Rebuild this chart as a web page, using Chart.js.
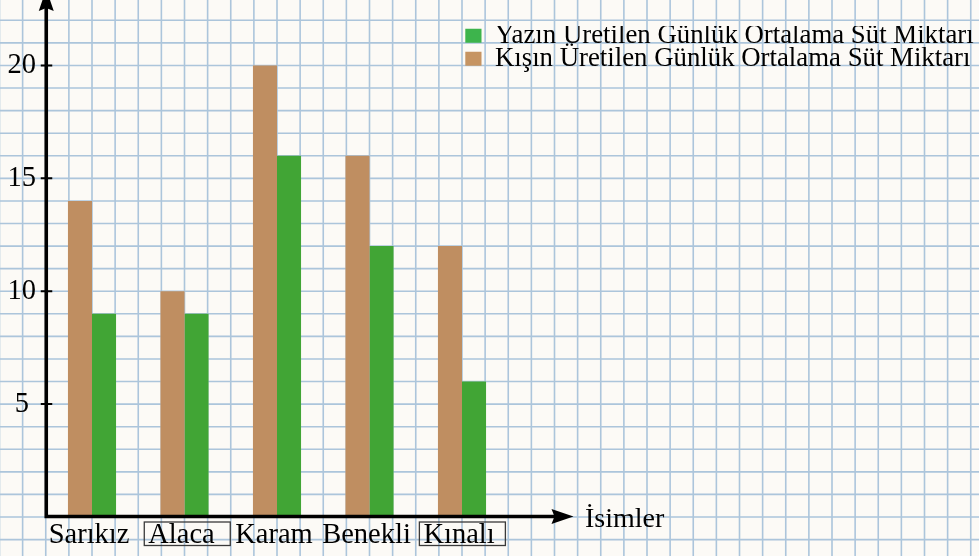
<!DOCTYPE html>
<html>
<head>
<meta charset="utf-8">
<script src="https://cdn.jsdelivr.net/npm/chart.js@4.4.1/dist/chart.umd.min.js"></script>
<style>
    html, body { margin: 0; padding: 0; background: #fcfaf6; }
    #wrap { width: 979px; height: 556px; }
</style>
</head>
<body>
<div id="wrap"><canvas id="barChart" width="979" height="556"></canvas></div>
<script>
// Veriler
const names = ['Sarıkız', 'Alaca', 'Karam', 'Benekli', 'Kınalı'];
const winterMilk = [14, 10, 20, 16, 12];
const summerMilk = [9, 9, 16, 12, 6];
const winterLabel = 'Kışın Üretilen Günlük Ortalama Süt Miktarı';
const summerLabel = 'Yazın Üretilen Günlük Ortalama Süt Miktarı';
const yTicks = [5, 10, 15, 20];
const boxedNames = ['Alaca', 'Kınalı'];
const axisTitle = 'İsimler';

const serif = '"Liberation Serif", "DejaVu Serif", serif';
const brown = '#bf8e61';
const green = '#41a535';
const legendColors = { [winterLabel]: '#c69462', [summerLabel]: '#3db44c' };
const labelShift = -3;

// Kareli kagit arka plani (olcekler ile hizali)
const paperGrid = {
    id: 'paperGrid',
    beforeDraw(chart) {
        const { ctx, width, height } = chart;
        const x = chart.scales.x, y = chart.scales.y;
        ctx.save();
        ctx.fillStyle = '#fcfaf6';
        ctx.fillRect(0, 0, width, height);
        const y0 = y.getPixelForValue(0);
        const dy = y0 - y.getPixelForValue(1);
        const dx = (x.getPixelForTick(1) - x.getPixelForTick(0)) / 4;
        const x0 = x.left;
        ctx.strokeStyle = 'rgba(118, 162, 202, 0.6)';
        ctx.lineWidth = 1.6;
        ctx.beginPath();
        for (let gx = x0 - Math.ceil(x0 / dx) * dx; gx <= width; gx += dx) {
            ctx.moveTo(gx, 0);
            ctx.lineTo(gx, height);
        }
        for (let gy = y0 + Math.ceil((height - y0) / dy) * dy; gy >= 0; gy -= dy) {
            ctx.moveTo(0, gy);
            ctx.lineTo(width, gy);
        }
        ctx.stroke();
        ctx.restore();
    }
};

// Legend yer kaplamasin, sag ustte dursun
const legendSpot = {
    id: 'legendSpot',
    beforeLayout(chart) {
        const lg = chart.legend;
        if (lg && !lg._spot) {
            const fit = lg.fit;
            lg.fit = function () { fit.call(this); this.height = 0; };
            lg._spot = true;
        }
    },
    afterLayout(chart) {
        const lg = chart.legend;
        if (!lg) return;
        lg.left = 465.3;
        lg.right = 979;
        lg.top = 26.1;
        lg.bottom = 80;
    }
};

// Oklu eksenler, cizgiler, eksen basligi, kutulu etiketler
const arrowAxes = {
    id: 'arrowAxes',
    afterDraw(chart) {
        const { ctx } = chart;
        const x = chart.scales.x, y = chart.scales.y;
        const ax = x.left + 0.5;
        const ay = y.getPixelForValue(0) - 0.5;
        const tipX = 573.5;
        ctx.save();
        ctx.strokeStyle = '#000';
        ctx.fillStyle = '#000';
        ctx.lineWidth = 3.6;
        ctx.lineCap = 'butt';
        ctx.beginPath();
        ctx.moveTo(ax, ay + 1.8);
        ctx.lineTo(ax, 8);
        ctx.moveTo(ax - 1.8, ay);
        ctx.lineTo(tipX - 18, ay);
        ctx.stroke();

        // ok uclari
        ctx.beginPath();
        ctx.moveTo(ax, -11);
        ctx.lineTo(ax + 7.5, 11);
        ctx.lineTo(ax, 8);
        ctx.lineTo(ax - 7.5, 11);
        ctx.closePath();
        ctx.fill();
        ctx.beginPath();
        ctx.moveTo(tipX, ay);
        ctx.lineTo(tipX - 22, ay - 7.5);
        ctx.lineTo(tipX - 19, ay);
        ctx.lineTo(tipX - 22, ay + 7.5);
        ctx.closePath();
        ctx.fill();

        // y tick cizgileri
        ctx.lineWidth = 2;
        ctx.beginPath();
        y.ticks.forEach(t => {
            const py = y.getPixelForValue(t.value);
            ctx.moveTo(ax - 5.5, py);
            ctx.lineTo(ax + 6, py);
        });
        ctx.stroke();

        // eksen basligi
        ctx.font = '28px ' + serif;
        ctx.textAlign = 'left';
        ctx.textBaseline = 'alphabetic';
        ctx.fillText(axisTitle, tipX + 11.5, ay + 10.5);

        // kutulu isimler
        ctx.font = '28.5px ' + serif;
        ctx.strokeStyle = '#3a3a3a';
        ctx.lineWidth = 1.3;
        names.forEach((n, i) => {
            if (!boxedNames.includes(n)) return;
            const w = ctx.measureText(n).width;
            const left = x.getPixelForTick(i) + labelShift - w / 2 - 4;
            ctx.strokeRect(left, ay + 5.5, 86, 23.5);
        });
        ctx.restore();
    }
};

const barCtx = document.getElementById('barChart').getContext('2d');
const barChart = new Chart(barCtx, {
    type: 'bar',
    data: {
        labels: names,
        datasets: [{
            label: winterLabel,
            data: winterMilk,
            backgroundColor: brown,
            borderWidth: 0
        }, {
            label: summerLabel,
            data: summerMilk,
            backgroundColor: green,
            borderWidth: 0
        }]
    },
    options: {
        responsive: false,
        animation: false,
        devicePixelRatio: 1,
        layout: {
            padding: { top: 0, right: 470.75, bottom: 0, left: 0 }
        },
        datasets: {
            bar: {
                categoryPercentage: 0.52,
                barPercentage: 1
            }
        },
        plugins: {
            tooltip: { enabled: false },
            legend: {
                display: true,
                position: 'top',
                align: 'start',
                reverse: true,
                labels: {
                    boxWidth: 20,
                    boxHeight: 14,
                    padding: -3.8,
                    color: '#000',
                    font: { family: serif, size: 26.8 },
                    generateLabels(chart) {
                        const items = Chart.defaults.plugins.legend.labels.generateLabels(chart);
                        items.forEach(it => {
                            it.fillStyle = legendColors[it.text];
                            it.lineWidth = 0;
                        });
                        return items;
                    }
                }
            }
        },
        scales: {
            x: {
                grid: { display: false, drawTicks: false },
                border: { display: false },
                ticks: {
                    color: '#000',
                    padding: 1,
                    labelOffset: labelShift,
                    maxRotation: 0,
                    font: { family: serif, size: 28.5 }
                },
                afterFit(scale) {
                    scale.height = 39;
                    scale.paddingLeft = 0;
                    scale.paddingRight = 0;
                }
            },
            y: {
                min: 0,
                max: 22.9,
                grid: { display: false, drawTicks: false },
                border: { display: false },
                afterBuildTicks(scale) {
                    scale.ticks = yTicks.map(v => ({ value: v }));
                },
                ticks: {
                    color: '#000',
                    padding: 9.75,
                    crossAlign: 'center',
                    font: { family: serif, size: 28.5 }
                },
                afterFit(scale) {
                    scale.width = 45.75;
                    scale.paddingTop = 0;
                    scale.paddingBottom = 0;
                }
            }
        }
    },
    plugins: [paperGrid, legendSpot, arrowAxes]
});
</script>
</body>
</html>
